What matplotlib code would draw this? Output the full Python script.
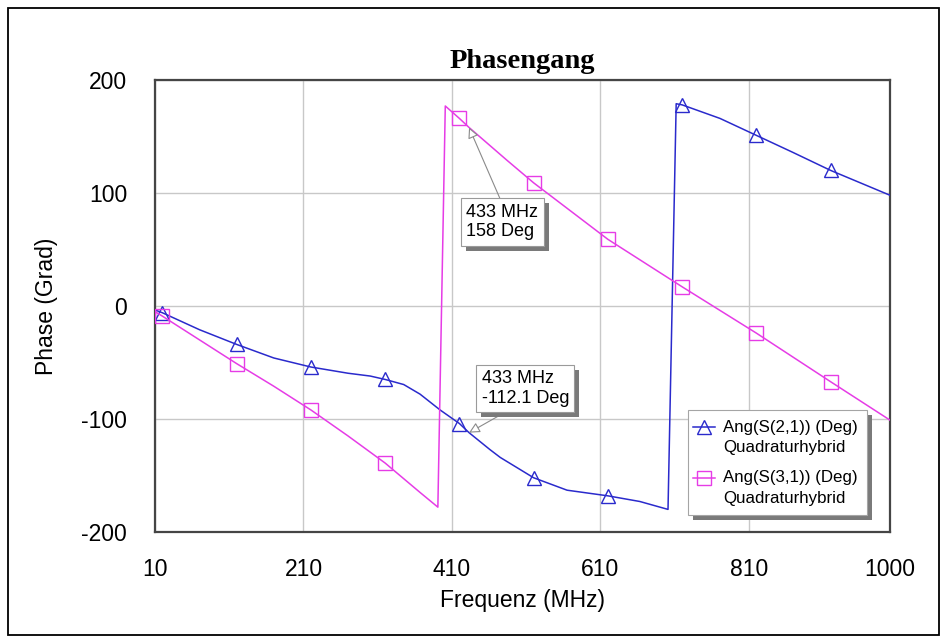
import matplotlib
matplotlib.use("Agg")
import matplotlib.pyplot as plt
import matplotlib.patheffects as pe
from matplotlib.lines import Line2D
from matplotlib.patches import Rectangle
import numpy as np

plt.rcParams["axes.unicode_minus"] = False

# Values
freq_s21 = [10, 20, 70, 120, 170, 220, 270, 300, 320, 345, 367, 394, 420, 433, 461, 475,
            520, 565, 620, 663, 701, 712, 720, 771, 820, 869, 920, 1000]
phase_s21 = [-3.5, -6, -21, -34, -46, -54, -59.5, -62, -65, -69.5, -78, -92, -104, -112.1,
             -127, -134, -152, -163, -168, -173, -180, 179, 178, 166, 151, 136, 120, 98]

freq_s31 = [10, 20, 70, 120, 170, 220, 270, 320, 367, 391, 401, 420, 433, 484,
            520, 620, 720, 820, 920, 1000]
phase_s31 = [-5, -9, -30, -51, -71, -92, -115, -139, -165, -178, 177, 166, 158, 129,
             109, 59, 17, -24, -67, -101]

marker_freq = [20, 120, 220, 320, 420, 520, 620, 720, 820, 920]

x_ticks = [10, 210, 410, 610, 810, 1000]
y_ticks = [-200, -100, 0, 100, 200]

label_s21 = "Ang(S(2,1)) (Deg)"
label_s31 = "Ang(S(3,1)) (Deg)"
circuit = "Quadraturhybrid"

c_s21 = "#2a2acc"
c_s31 = "#e63ce6"

fig = plt.figure(figsize=(9.42, 6.37), dpi=100)
ax = fig.add_axes([155 / 942, 1 - 532 / 637, 735 / 942, 452 / 637])

mk21 = list(np.where(np.isin(freq_s21, marker_freq))[0])
mk31 = list(np.where(np.isin(freq_s31, marker_freq))[0])

style21 = dict(color=c_s21, lw=1.1, marker="^", ms=10, mfc="none", mec=c_s21, mew=1.0)
style31 = dict(color=c_s31, lw=1.1, marker="s", ms=10, mfc="none", mec=c_s31, mew=1.0)
ax.plot(freq_s21, phase_s21, markevery=mk21, zorder=3, **style21)
ax.plot(freq_s31, phase_s31, markevery=mk31, zorder=3, **style31)

ax.set_xlim(10, 1000)
ax.set_ylim(-200, 200)
ax.set_xticks(x_ticks)
ax.set_yticks(y_ticks)
ax.grid(True, color="#c8c8c8", lw=1.0)
ax.set_axisbelow(True)
ax.tick_params(length=0, labelsize=16.5)
ax.tick_params(axis="y", pad=20)
ax.tick_params(axis="x", pad=19)
for lab in ax.get_xticklabels() + ax.get_yticklabels():
    lab.set_family("Liberation Sans")
for sp in ax.spines.values():
    sp.set_color("#454545")
    sp.set_linewidth(1.6)

ax.set_title("Phasengang", family="Liberation Serif", weight="bold", fontsize=20.5, pad=9)
ax.set_xlabel("Frequenz (MHz)", family="Liberation Sans", fontsize=16.5, va="center")
ax.xaxis.set_label_coords(0.5, -(600 - 532) / 452)
ax.set_ylabel("Phase (Grad)", family="Liberation Sans", fontsize=16.5, va="center")
ax.yaxis.set_label_coords(-(155 - 47) / 735, 0.5)

# marker readouts
shadow = [pe.SimplePatchShadow(offset=(3.5, -3.5), shadow_rgbFace="#7a7a7a", alpha=1.0), pe.Normal()]
arrow = dict(arrowstyle="-|>", fc="white", ec="#8a8a8a", lw=0.8, mutation_scale=16, shrinkA=0, shrinkB=0)
notes = [(433, 158, "433 MHz\n158 Deg", (-2, -55), (0.5, 1.0)),
         (433, -112.1, "433 MHz\n-112.1 Deg", (9, 45), (0.38, 0.0))]
for fx, fy, txt, off, rp in notes:
    a = ax.annotate(txt, xy=(fx, fy), xytext=off, textcoords="offset points",
                    ha="left", va="top", fontsize=13, family="Liberation Sans", linespacing=1.2,
                    bbox=dict(boxstyle="square,pad=0.3", fc="white", ec="#9a9a9a", lw=0.8),
                    arrowprops=dict(relpos=rp, **arrow), zorder=6)
    a.get_bbox_patch().set_path_effects(shadow)

# legend box drawn by hand so the handle sits on the first text line
box = Rectangle((0.725, 0.0376), 0.244, 0.232, transform=ax.transAxes, fc="white",
                ec="#a5a5a5", lw=0.8, zorder=7)
box.set_path_effects(shadow)
ax.add_patch(box)
for (lab, st, y1, y2) in [(label_s21, style21, 0.232, 0.188), (label_s31, style31, 0.1195, 0.075)]:
    ax.add_line(Line2D([0.732, 0.747, 0.762], [y1, y1, y1], transform=ax.transAxes,
                       markevery=[1], zorder=8, **st))
    ax.text(0.773, y1, lab, transform=ax.transAxes, va="center", fontsize=12.2,
            family="Liberation Sans", zorder=8)
    ax.text(0.773, y2, circuit, transform=ax.transAxes, va="center", fontsize=12.2,
            family="Liberation Sans", zorder=8)

# outer frame
fig.patches.append(Rectangle((8 / 942, 2 / 637), 931 / 942, 627 / 637, transform=fig.transFigure,
                             fill=False, ec="black", lw=1.3))

fig.savefig("out.png", dpi=100)
